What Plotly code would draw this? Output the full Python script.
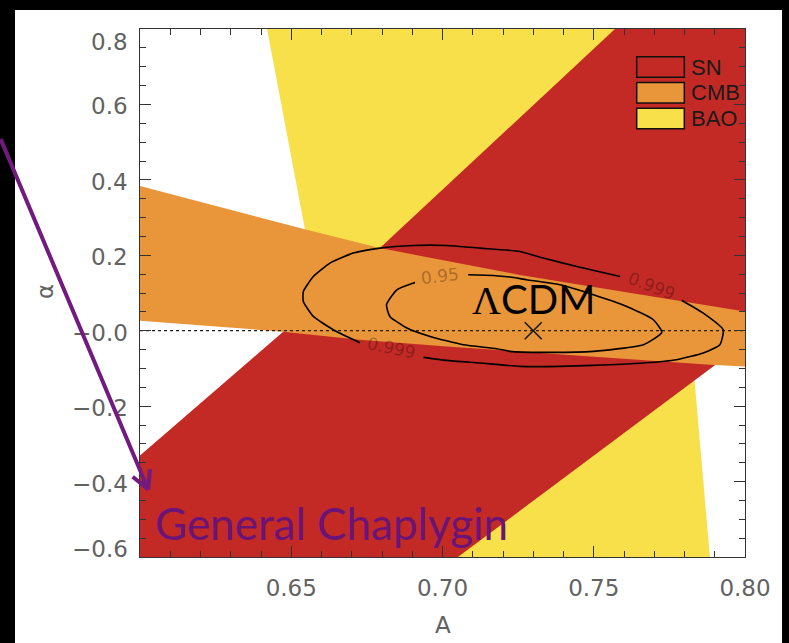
import plotly.graph_objects as go

# ---------------- data ----------------
# BAO allowed band (yellow)
bao_A = [0.6420, 0.7732, 0.7884, 0.6750]
bao_alpha = [0.80, 0.80, -0.60, -0.60]

# SN allowed band (red)
sn_A = [0.600, 0.6463, 0.6793, 0.7570, 0.800, 0.800, 0.7051, 0.600]
sn_alpha = [-0.331, -0.011, 0.219, 0.800, 0.800, -0.032, -0.600, -0.600]

# CMB allowed band (orange)
cmb_A = [0.600, 0.6551, 0.6793, 0.7256, 0.800, 0.800, 0.7884, 0.7554, 0.7256,
         0.7014, 0.6727, 0.6463, 0.600]
cmb_alpha = [0.384, 0.2675, 0.219, 0.148, 0.051, -0.095, -0.090, -0.0715, -0.0556,
             -0.0416, -0.0238, -0.0018, 0.0265]

# combined 0.999 contour (gap where the label sits)
c999_A = [0.7791, 0.7862, 0.7928, 0.7917, 0.7862, 0.7774, 0.7664, 0.7554, 0.7388,
          0.7256, 0.7124, 0.7014, 0.6937, None, 0.6727, 0.6639, 0.6573, 0.6540,
          0.6540, 0.6573, 0.6628, 0.6705, 0.6793, 0.6903, 0.7014, 0.7124, 0.7256,
          0.7333, 0.7444, 0.7587]
c999_alpha = [0.0803, 0.0469, 0.0026, -0.0371, -0.0591, -0.0768, -0.0856, -0.0901,
              -0.0946, -0.0946, -0.0856, -0.0787, -0.0707, None, -0.0318, 0.0026,
              0.0379, 0.0776, 0.1041, 0.1438, 0.1793, 0.2058, 0.219, 0.2260, 0.2260,
              0.219, 0.2101, 0.1926, 0.1703, 0.1438]

# combined 0.95 contour
c95_A = [0.7085, 0.7168, 0.7223, 0.7278, 0.7388, 0.7499, 0.7609, 0.7697, 0.7725,
         0.7664, 0.7499, 0.7333, 0.7223, 0.7179, 0.7069, 0.6959, 0.6882, 0.6826,
         0.6815, 0.6849, 0.6909]
c95_alpha = [0.1483, 0.1465, 0.1422, 0.1351, 0.1219, 0.0954, 0.0644, 0.0291, -0.0045,
             -0.0371, -0.0548, -0.0575, -0.0548, -0.0477, -0.0371, -0.0151, 0.0072,
             0.0379, 0.0689, 0.1086, 0.1279]

# contour labels
clabel_text = ["0.95", "0.999", "0.999"]
clabel_A = [0.6992, 0.6832, 0.7692]
clabel_alpha = [0.1438, -0.0458, 0.1174]
clabel_angle = [-7, 12, 21]

# LambdaCDM point
lcdm_A = [0.73]
lcdm_alpha = [0.0]

# axes ticks
x_ticks = [0.60, 0.65, 0.70, 0.75, 0.80]
x_ticktext = ["", "0.65", "0.70", "0.75", "0.80"]
y_ticks = [-0.6, -0.4, -0.2, 0.0, 0.2, 0.4, 0.6, 0.8]
y_ticktext = ["\u22120.6", "\u22120.4", "\u22120.2", "\u22120.0", "0.2", "0.4", "0.6", "0.8"]

legend_names = ["SN", "CMB", "BAO"]

# ---------------- styling ----------------
RED = "#c32a25"
ORANGE = "#e9953a"
YELLOW = "#f8e04b"
PURPLE = "#721a80"
AXCOL = "#333333"
TICKFONT = dict(family="DejaVu Sans", size=23, color="#626262")
legend_colors = [RED, ORANGE, YELLOW]

fig = go.Figure()

for xs, ys, col in [(bao_A, bao_alpha, YELLOW), (sn_A, sn_alpha, RED), (cmb_A, cmb_alpha, ORANGE)]:
    fig.add_trace(go.Scatter(x=xs, y=ys, mode="lines", fill="toself", fillcolor=col,
                             line=dict(width=0, color=col), hoverinfo="skip", showlegend=False))

# dotted alpha = 0 line
fig.add_trace(go.Scatter(x=[x_ticks[0], x_ticks[-1]], y=[0, 0], mode="lines",
                         line=dict(color="#222222", width=1.2, dash="dot"),
                         hoverinfo="skip", showlegend=False))

for xs, ys in [(c999_A, c999_alpha), (c95_A, c95_alpha)]:
    fig.add_trace(go.Scatter(x=xs, y=ys, mode="lines", connectgaps=False,
                             line=dict(color="black", width=1.6, shape="spline", smoothing=0.5),
                             hoverinfo="skip", showlegend=False))

fig.add_trace(go.Scatter(x=lcdm_A, y=lcdm_alpha, mode="markers",
                         marker=dict(symbol="x-thin", size=17, line=dict(color="#1a1a1a", width=1.6)),
                         hoverinfo="skip", showlegend=False))

annotations = []
shapes = []

# white panel on black background
shapes.append(dict(type="rect", xref="paper", yref="paper", x0=-0.2066, x1=1.0612,
                   y0=-0.25, y1=1.036, fillcolor="white", line=dict(width=0), layer="below"))

# contour labels
for t, xa, ya, ang in zip(clabel_text, clabel_A, clabel_alpha, clabel_angle):
    annotations.append(dict(x=xa, y=ya, xref="x", yref="y", text=t, showarrow=False,
                            textangle=ang, font=dict(family="DejaVu Sans", size=17,
                                                     color="rgba(0,0,0,0.28)")))

# y tick labels (IDL pulls the end labels inside the axis span)
for v, t in zip(y_ticks, y_ticktext):
    ys = 0
    if v == y_ticks[-1]:
        ys = -11
    elif v == y_ticks[0]:
        ys = 10
    annotations.append(dict(x=0, y=v, xref="paper", yref="y", text=t, showarrow=False,
                            xanchor="right", yanchor="middle", xshift=-10, yshift=ys - 2,
                            font=TICKFONT))

# axis titles
annotations.append(dict(x=0.70, y=-0.1288, xref="x", yref="paper", text="A", showarrow=False,
                        yanchor="middle", font=TICKFONT))
annotations.append(dict(x=-0.1818, y=0.5019, xref="paper", yref="paper", text="\u03b1",
                        showarrow=False, textangle=-90, font=TICKFONT))

# legend (boxes + labels)
box_x0, box_x1 = 0.821, 0.8997
box_top, box_h, box_step = 0.9475, 0.039, 0.0488
for i, (name, col) in enumerate(zip(legend_names, legend_colors)):
    y1 = box_top - i * box_step
    y0 = y1 - box_h
    shapes.append(dict(type="rect", xref="paper", yref="paper", x0=box_x0, x1=box_x1,
                       y0=y0, y1=y1, fillcolor=col, line=dict(color="#111111", width=1.5)))
    annotations.append(dict(x=box_x1 + 0.008, y=(y0 + y1) / 2, xref="paper", yref="paper",
                            text=name, showarrow=False, xanchor="left", yanchor="middle",
                            font=dict(family="Liberation Sans", size=22, color="#1a1a1a")))

# Lambda CDM label
annotations.append(dict(x=lcdm_A[0], y=0.0795, xref="x", yref="y", yshift=2,
                        text="<span style='font-family:Liberation Serif'>\u039b</span>CDM",
                        showarrow=False, xanchor="center", yanchor="middle",
                        font=dict(family="Lato", size=40, color="black")))

# General Chaplygin label + arrow
annotations.append(dict(x=0.6043, y=-0.5536, xref="x", yref="y", text="General Chaplygin",
                        showarrow=False, xanchor="left", yanchor="bottom", yshift=-11,
                        font=dict(family="Lato", size=44, color="#6a1478")))
tip_A, tip_alpha = 0.6027, -0.4212
for ax, ay in [(-158, -352), (-17, -14), (2, -22)]:
    annotations.append(dict(x=tip_A, y=tip_alpha, xref="x", yref="y", text="", showarrow=True,
                            ax=ax, ay=ay, axref="pixel", ayref="pixel", arrowhead=0,
                            arrowwidth=4, arrowcolor=PURPLE, standoff=0, startstandoff=0))

fig.update_layout(
    width=789, height=643,
    margin=dict(l=140, r=44, t=29, b=86, pad=0),
    paper_bgcolor="black", plot_bgcolor="white",
    showlegend=False,
    shapes=shapes, annotations=annotations,
    xaxis=dict(range=[0.60, 0.80], tickvals=x_ticks, ticktext=x_ticktext, ticks="inside",
               ticklen=11, tickwidth=1, tickcolor=AXCOL, showline=True, linecolor=AXCOL,
               linewidth=1, mirror="allticks", showgrid=False, zeroline=False,
               tickfont=TICKFONT, ticklabelstandoff=10,
               minor=dict(ticks="inside", ticklen=6, dtick=0.01, tick0=0.6,
                          tickcolor=AXCOL, tickwidth=1, showgrid=False)),
    yaxis=dict(range=[-0.60, 0.80], tickvals=y_ticks, showticklabels=False, ticks="inside",
               ticklen=11, tickwidth=1, tickcolor=AXCOL, showline=True, linecolor=AXCOL,
               linewidth=1, mirror="allticks", showgrid=False, zeroline=False,
               minor=dict(ticks="inside", ticklen=6, dtick=0.05, tick0=0,
                          tickcolor=AXCOL, tickwidth=1, showgrid=False)),
)

fig.write_html("out.html", config={"displayModeBar": False, "staticPlot": True},
               post_script="document.body.style.margin='0';document.body.style.overflow='hidden';")
